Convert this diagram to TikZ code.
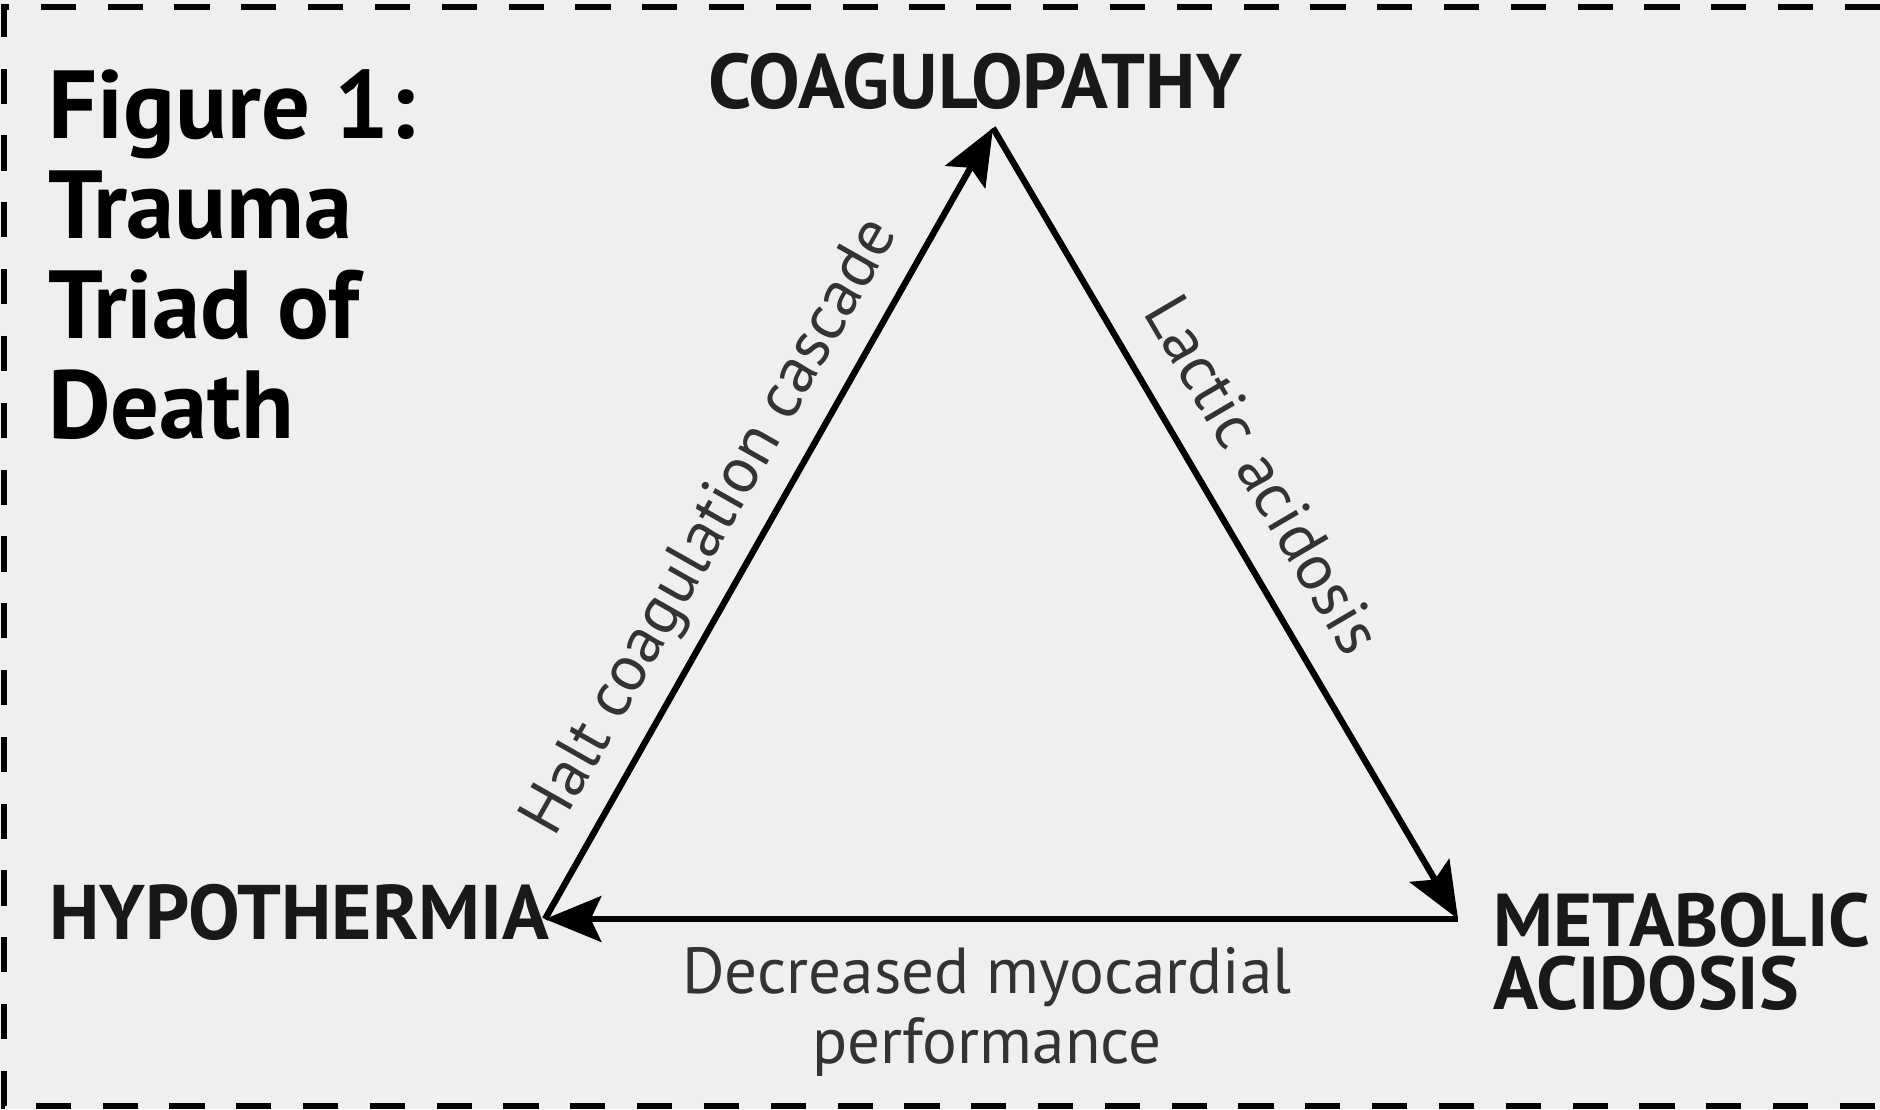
\documentclass[tikz,border=0pt]{standalone}
\usepackage{fontspec}
\setmainfont{PT Sans}
\usetikzlibrary{arrows.meta}
\definecolor{panel}{HTML}{EFEFEF}

\begin{document}
\begin{tikzpicture}[x=0.01cm,y=-0.01cm,>={Stealth[length=16pt,width=13pt,inset=3pt]},line width=1.8pt]
  \tikzstyle{vertex}=[inner sep=0pt,font=\fontsize{22}{18}\selectfont\bfseries,text=black!90]
  \tikzstyle{cause}=[inner sep=0pt,font=\fontsize{18.5}{20}\selectfont,text=black!80]
  \useasboundingbox (0,0) rectangle (1880,1109);
  \fill[panel] (0,0) rectangle (1880,1109);
  \draw[dash pattern=on 10pt off 9pt,line width=1.6pt] (1880,7)--(4,7)--(4,1106)--(1880,1106);
  % corners of the triad
  \coordinate(top) at (993,128);
  \coordinate(left) at (545,919);
  \coordinate(right) at (1458,919);
  \node(title) at (45,66) [anchor=north west,inner sep=0pt,align=left,font=\fontsize{27.5}{28.5}\selectfont\bfseries]{Figure 1:\\Trauma\\Triad of\\Death};
  \node(coag) at (975,81) [vertex]{COAGULOPATHY};
  \node(hypo) at (46,939) [vertex,anchor=base west]{HYPOTHERMIA};
  \node(meta) at (1490,890) [vertex,anchor=north west,align=left,font=\fontsize{21.3}{18}\selectfont\bfseries]{METABOLIC\\ACIDOSIS};
  \draw[->](left)--node(halt)[cause,sloped,above=4pt,pos=.465]{Halt coagulation cascade}(top);
  \draw[->](top)--node(lactic)[cause,sloped,above=9pt,pos=.475]{Lactic acidosis}(right);
  \draw[->](right)--(left);
  \node(myo) at (987,944) [cause,anchor=north,align=center]{Decreased myocardial\\performance};
\end{tikzpicture}
\end{document}
